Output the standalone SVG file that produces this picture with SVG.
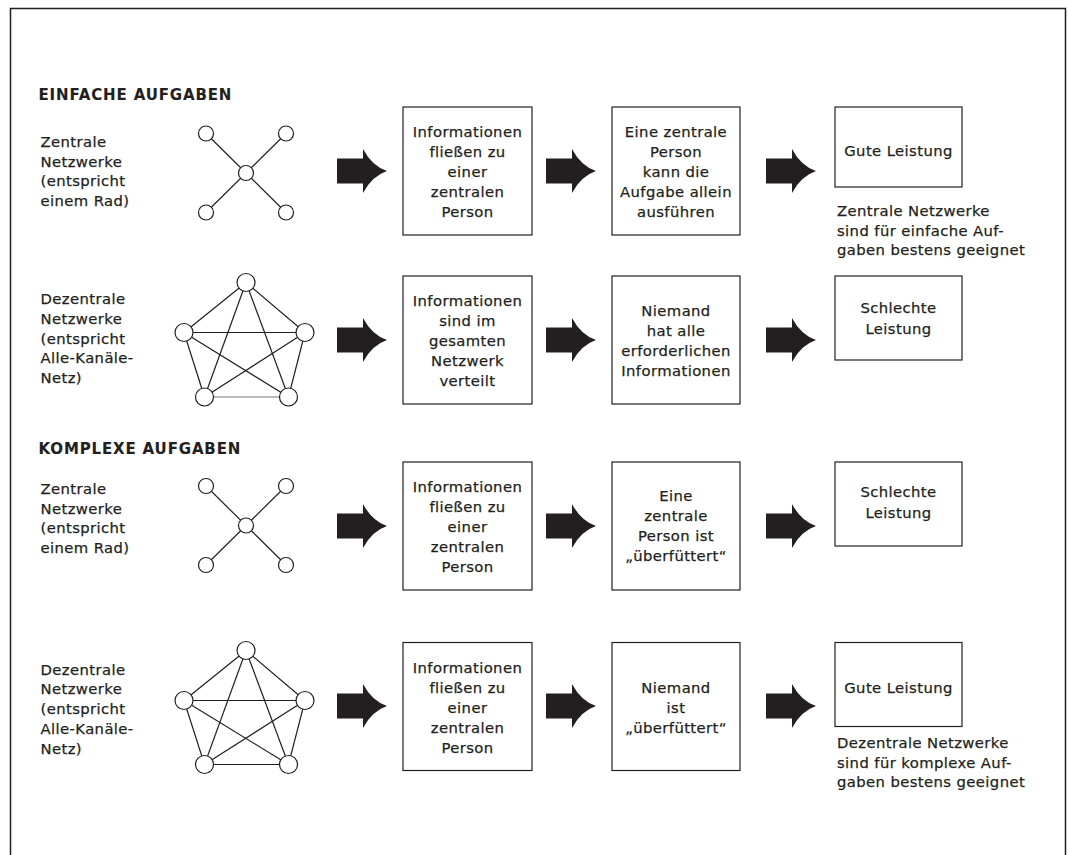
<svg xmlns="http://www.w3.org/2000/svg" width="1068" height="855" viewBox="0 0 1068 855">
<style>
.t{font-family:"DejaVu Sans","Open Sans","Liberation Sans",sans-serif;font-size:14.8px;letter-spacing:0.4px;fill:#231f20;stroke:#231f20;stroke-width:0.25px}
.c{text-anchor:middle}
.h{font-weight:700;font-size:15px;letter-spacing:0.85px;stroke-width:0.1px}
.box{fill:#fff;stroke:#231f20;stroke-width:1.2}
.nd{fill:#fff;stroke:#231f20;stroke-width:1.2}
.ed{stroke:#231f20;stroke-width:1.2;fill:none}
.arrow{fill:#231f20}
.frame{fill:none;stroke:#231f20;stroke-width:1.5}
</style>
<defs>
<path id="arr" class="arrow" d="M0,-12.5 H26 V-22 Q35,-5 50,0 Q35,5 26,22 V12.5 H0 Z"/>
</defs>
<rect width="1068" height="855" fill="#fff"/>
<path class="frame" d="M10.5,856 V8.5 H1065.5 V856"/>

<g id="title-einfach"><text class="t h" x="38.5" y="100">EINFACHE AUFGABEN</text></g>
<g id="title-komplex"><text class="t h" x="38.5" y="454">KOMPLEXE AUFGABEN</text></g>

<!-- Row 1 -->
<g id="label-r1">
<text class="t" x="40.5" y="147">Zentrale</text>
<text class="t" x="40.5" y="166.7">Netzwerke</text>
<text class="t" x="40.5" y="186.4">(entspricht</text>
<text class="t" x="40.5" y="206.1">einem Rad)</text>
</g>
<g id="net-r1" transform="translate(246,173)">
<line class="ed" x1="-40" y1="-39.5" x2="40" y2="39.5"/>
<line class="ed" x1="40" y1="-39.5" x2="-40" y2="39.5"/>
<circle class="nd" cx="0" cy="0" r="7.5"/>
<circle class="nd" cx="-40" cy="-39.5" r="7.5"/>
<circle class="nd" cx="40" cy="-39.5" r="7.5"/>
<circle class="nd" cx="-40" cy="39.5" r="7.5"/>
<circle class="nd" cx="40" cy="39.5" r="7.5"/>
</g>
<g id="box-r1-1">
<rect class="box" x="403" y="107" width="129" height="128"/>
<text class="t c" x="467.5" y="137">Informationen</text>
<text class="t c" x="467.5" y="157">fließen zu</text>
<text class="t c" x="467.5" y="177">einer</text>
<text class="t c" x="467.5" y="197">zentralen</text>
<text class="t c" x="467.5" y="217">Person</text>
</g>
<g id="box-r1-2">
<rect class="box" x="612" y="107" width="128" height="128"/>
<text class="t c" x="676" y="137">Eine zentrale</text>
<text class="t c" x="676" y="157">Person</text>
<text class="t c" x="676" y="177">kann die</text>
<text class="t c" x="676" y="197">Aufgabe allein</text>
<text class="t c" x="676" y="217">ausführen</text>
</g>
<g id="box-r1-3">
<rect class="box" x="835" y="107" width="127" height="80"/>
<text class="t c" x="898.5" y="155.5">Gute Leistung</text>
</g>
<g id="note-r1">
<text class="t" x="837" y="216">Zentrale Netzwerke</text>
<text class="t" x="837" y="235.5">sind für einfache Auf-</text>
<text class="t" x="837" y="255">gaben bestens geeignet</text>
</g>

<!-- Row 2 -->
<g id="label-r2">
<text class="t" x="40.5" y="304">Dezentrale</text>
<text class="t" x="40.5" y="323.8">Netzwerke</text>
<text class="t" x="40.5" y="343.6">(entspricht</text>
<text class="t" x="40.5" y="363.4">Alle-Kanäle-</text>
<text class="t" x="40.5" y="383.2">Netz)</text>
</g>
<g id="net-r2" transform="translate(246,282.5)">
<line class="ed" x1="0" y1="0" x2="-62" y2="50"/>
<line class="ed" x1="0" y1="0" x2="59" y2="50"/>
<line class="ed" x1="0" y1="0" x2="-41.5" y2="114.5"/>
<line class="ed" x1="0" y1="0" x2="42.5" y2="114.5"/>
<line class="ed" x1="-62" y1="50" x2="59" y2="50"/>
<line class="ed" x1="-62" y1="50" x2="-41.5" y2="114.5"/>
<line class="ed" x1="-62" y1="50" x2="42.5" y2="114.5"/>
<line class="ed" x1="59" y1="50" x2="-41.5" y2="114.5"/>
<line class="ed" x1="59" y1="50" x2="42.5" y2="114.5"/>
<line class="ed" x1="-41.5" y1="114.5" x2="42.5" y2="114.5" stroke-opacity="0.6"/>
<circle class="nd" cx="0" cy="0" r="9"/>
<circle class="nd" cx="-62" cy="50" r="9"/>
<circle class="nd" cx="59" cy="50" r="9"/>
<circle class="nd" cx="-41.5" cy="114.5" r="9"/>
<circle class="nd" cx="42.5" cy="114.5" r="9"/>
</g>
<g id="box-r2-1">
<rect class="box" x="403" y="276" width="129" height="128"/>
<text class="t c" x="467.5" y="306">Informationen</text>
<text class="t c" x="467.5" y="326">sind im</text>
<text class="t c" x="467.5" y="346">gesamten</text>
<text class="t c" x="467.5" y="366">Netzwerk</text>
<text class="t c" x="467.5" y="386">verteilt</text>
</g>
<g id="box-r2-2">
<rect class="box" x="612" y="276" width="128" height="128"/>
<text class="t c" x="676" y="316">Niemand</text>
<text class="t c" x="676" y="336">hat alle</text>
<text class="t c" x="676" y="356">erforderlichen</text>
<text class="t c" x="676" y="376">Informationen</text>
</g>
<g id="box-r2-3">
<rect class="box" x="835" y="276" width="127" height="84"/>
<text class="t c" x="898.5" y="313">Schlechte</text>
<text class="t c" x="898.5" y="333.5">Leistung</text>
</g>

<!-- Row 3 -->
<g id="label-r3">
<text class="t" x="40.5" y="494">Zentrale</text>
<text class="t" x="40.5" y="513.7">Netzwerke</text>
<text class="t" x="40.5" y="533.4">(entspricht</text>
<text class="t" x="40.5" y="553.1">einem Rad)</text>
</g>
<g id="net-r3" transform="translate(246,525.5)">
<line class="ed" x1="-40" y1="-39.5" x2="40" y2="39.5"/>
<line class="ed" x1="40" y1="-39.5" x2="-40" y2="39.5"/>
<circle class="nd" cx="0" cy="0" r="7.5"/>
<circle class="nd" cx="-40" cy="-39.5" r="7.5"/>
<circle class="nd" cx="40" cy="-39.5" r="7.5"/>
<circle class="nd" cx="-40" cy="39.5" r="7.5"/>
<circle class="nd" cx="40" cy="39.5" r="7.5"/>
</g>
<g id="box-r3-1">
<rect class="box" x="403" y="462" width="129" height="128"/>
<text class="t c" x="467.5" y="492">Informationen</text>
<text class="t c" x="467.5" y="512">fließen zu</text>
<text class="t c" x="467.5" y="532">einer</text>
<text class="t c" x="467.5" y="552">zentralen</text>
<text class="t c" x="467.5" y="572">Person</text>
</g>
<g id="box-r3-2">
<rect class="box" x="612" y="462" width="128" height="128"/>
<text class="t c" x="676" y="500.5">Eine</text>
<text class="t c" x="676" y="520.8">zentrale</text>
<text class="t c" x="676" y="541.1">Person ist</text>
<text class="t c" x="676" y="561.4">„überfüttert“</text>
</g>
<g id="box-r3-3">
<rect class="box" x="835" y="462" width="127" height="84"/>
<text class="t c" x="898.5" y="497">Schlechte</text>
<text class="t c" x="898.5" y="517.5">Leistung</text>
</g>

<!-- Row 4 -->
<g id="label-r4">
<text class="t" x="40.5" y="674.5">Dezentrale</text>
<text class="t" x="40.5" y="694.3">Netzwerke</text>
<text class="t" x="40.5" y="714.1">(entspricht</text>
<text class="t" x="40.5" y="733.9">Alle-Kanäle-</text>
<text class="t" x="40.5" y="753.7">Netz)</text>
</g>
<g id="net-r4" transform="translate(246,650.5)">
<line class="ed" x1="0" y1="0" x2="-62" y2="50"/>
<line class="ed" x1="0" y1="0" x2="59" y2="50"/>
<line class="ed" x1="0" y1="0" x2="-41.5" y2="114"/>
<line class="ed" x1="0" y1="0" x2="42.5" y2="114"/>
<line class="ed" x1="-62" y1="50" x2="59" y2="50"/>
<line class="ed" x1="-62" y1="50" x2="-41.5" y2="114"/>
<line class="ed" x1="-62" y1="50" x2="42.5" y2="114"/>
<line class="ed" x1="59" y1="50" x2="-41.5" y2="114"/>
<line class="ed" x1="59" y1="50" x2="42.5" y2="114"/>
<line class="ed" x1="-41.5" y1="114" x2="42.5" y2="114"/>
<circle class="nd" cx="0" cy="0" r="9"/>
<circle class="nd" cx="-62" cy="50" r="9"/>
<circle class="nd" cx="59" cy="50" r="9"/>
<circle class="nd" cx="-41.5" cy="114" r="9"/>
<circle class="nd" cx="42.5" cy="114" r="9"/>
</g>
<g id="box-r4-1">
<rect class="box" x="403" y="642.5" width="129" height="128"/>
<text class="t c" x="467.5" y="673">Informationen</text>
<text class="t c" x="467.5" y="693">fließen zu</text>
<text class="t c" x="467.5" y="713">einer</text>
<text class="t c" x="467.5" y="733">zentralen</text>
<text class="t c" x="467.5" y="753">Person</text>
</g>
<g id="box-r4-2">
<rect class="box" x="612" y="642.5" width="128" height="128"/>
<text class="t c" x="676" y="692.5">Niemand</text>
<text class="t c" x="676" y="712.5">ist</text>
<text class="t c" x="676" y="732.5">„überfüttert“</text>
</g>
<g id="box-r4-3">
<rect class="box" x="835" y="642.5" width="127" height="84"/>
<text class="t c" x="898.5" y="693">Gute Leistung</text>
</g>
<g id="note-r4">
<text class="t" x="837" y="748">Dezentrale Netzwerke</text>
<text class="t" x="837" y="767.5">sind für komplexe Auf-</text>
<text class="t" x="837" y="787">gaben bestens geeignet</text>
</g>

<g id="connectors">
<use href="#arr" transform="translate(337,171)"/>
<use href="#arr" transform="translate(546,171)"/>
<use href="#arr" transform="translate(766,171)"/>
<use href="#arr" transform="translate(337,340)"/>
<use href="#arr" transform="translate(546,340)"/>
<use href="#arr" transform="translate(766,340)"/>
<use href="#arr" transform="translate(337,526)"/>
<use href="#arr" transform="translate(546,526)"/>
<use href="#arr" transform="translate(766,526)"/>
<use href="#arr" transform="translate(337,706)"/>
<use href="#arr" transform="translate(546,706)"/>
<use href="#arr" transform="translate(766,706)"/>
</g>
</svg>
